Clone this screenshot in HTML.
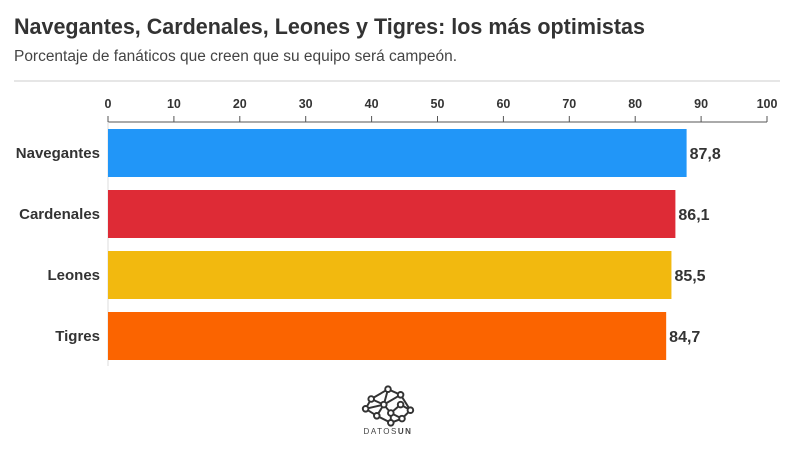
<!DOCTYPE html>
<html><head><meta charset="utf-8"><style>
body{margin:0;background:#fff;font-family:"Liberation Sans",sans-serif;}
#w{position:relative;width:794px;height:451px;overflow:hidden;}
</style></head><body>
<div id="w">
<svg id="s" width="794" height="451" xmlns="http://www.w3.org/2000/svg">
<text x="14" y="34" font-size="22" font-weight="bold" fill="#333" textLength="631" lengthAdjust="spacingAndGlyphs">Navegantes, Cardenales, Leones y Tigres: los más optimistas</text>
<text x="14" y="61" font-size="15.5" fill="#444" textLength="443" lengthAdjust="spacingAndGlyphs">Porcentaje de fanáticos que creen que su equipo será campeón.</text>
<line x1="14" y1="81" x2="780" y2="81" stroke="#ccc" stroke-width="1"/>
<g id="axis"></g>
<g id="bars"></g>
<g stroke="#333" stroke-width="1.4" fill="#fff" transform="translate(388,406) scale(1.4) translate(-388,-405)">
<path d="M376 400 L388 393 L397 397 L404 408 L398 414 L390 417 L380 412 L372 407 Z M376 400 L385 404 L388 393 M385 404 L397 397 M385 404 L380 412 M385 404 L390 410 L398 414 M390 410 L397 404 L404 408 M390 410 L390 417 M372 407 L385 404" fill="none"/>
<circle cx="376" cy="400" r="2"/><circle cx="388" cy="393" r="2"/><circle cx="397" cy="397" r="2"/><circle cx="404" cy="408" r="2"/><circle cx="398" cy="414" r="2"/><circle cx="390" cy="417" r="2"/><circle cx="380" cy="412" r="2"/><circle cx="372" cy="407" r="2"/><circle cx="385" cy="404" r="2"/><circle cx="390" cy="410" r="2"/><circle cx="397" cy="404" r="2"/>
</g>
<text x="388" y="434" font-size="8" fill="#444" text-anchor="middle" letter-spacing="1.5">DATOS<tspan font-weight="bold">UN</tspan></text>
</svg>
</div>
<script>
const categories=["Navegantes","Cardenales","Leones","Tigres"];
const values=[87.8,86.1,85.5,84.7];
const valueLabels=["87,8","86,1","85,5","84,7"];
const colors=["#2196f8","#de2b36","#f2b90f","#fb6400"];
const ticks=[0,10,20,30,40,50,60,70,80,90,100];
const NS="http://www.w3.org/2000/svg";
const x0=108,x1=767,top0=129,step=61,bh=48;
const xs=v=>x0+(v/100)*(x1-x0);
function mk(t,a,p){const e=document.createElementNS(NS,t);for(const k in a)e.setAttribute(k,a[k]);p.appendChild(e);return e;}
const ax=document.getElementById('axis'),bg=document.getElementById('bars');
const al=mk('line',{x1:x0,y1:122,x2:x1,y2:122,stroke:'#555','stroke-width':1},ax);


const vl=mk('line',{x1:x0,y1:122,x2:x0,y2:366,stroke:'#ddd','stroke-width':1},ax);


ticks.forEach(t=>{
 const l=mk('line',{x1:xs(t),y1:116,x2:xs(t),y2:122,stroke:'#555','stroke-width':1},ax);
 
 
 const tx=mk('text',{x:xs(t),y:108,'font-size':12.5,'font-weight':'bold',fill:'#333','text-anchor':'middle'},ax);
 tx.textContent=t;
 
 
});
categories.forEach((c,i)=>{
 const y=top0+i*step;
 const r=mk('rect',{x:x0,y:y,width:xs(values[i])-x0,height:bh,fill:colors[i]},bg);
 
 
 const lb=mk('text',{x:100,y:y+bh/2+5,'font-size':15,'font-weight':'bold',fill:'#333','text-anchor':'end'},bg);
 lb.textContent=c;
 
 
 const vt=mk('text',{x:xs(values[i])+3,y:y+bh/2+6,'font-size':16,'font-weight':'bold',fill:'#333'},bg);
 vt.textContent=valueLabels[i];
 
 
});
</script>
</body></html>
